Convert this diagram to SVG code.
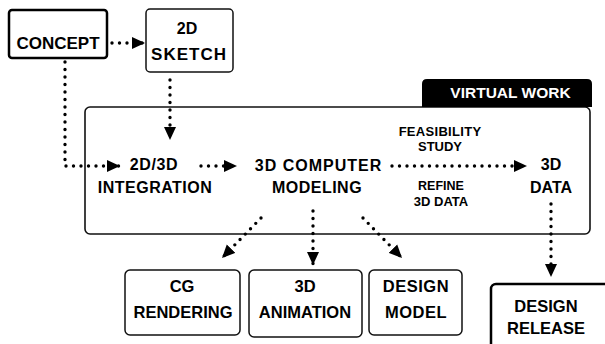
<svg xmlns="http://www.w3.org/2000/svg" width="605" height="344" viewBox="0 0 605 344">
<style>
.t{font-family:"Liberation Sans",Arial,sans-serif;font-weight:bold;fill:#000;text-anchor:middle;font-size:16px}
.box{fill:#fff;stroke:#111;stroke-width:1.5}
.thick{fill:#fff;stroke:#000;stroke-width:2.5}
.dot{fill:none;stroke:#000;stroke-width:3.4;stroke-linecap:round;stroke-dasharray:0 7.5}
</style>
<defs>
<marker id="ah" markerUnits="userSpaceOnUse" markerWidth="13" markerHeight="13" viewBox="0 0 13 13" refX="13" refY="6.5" orient="auto">
<path d="M0,0.5 L13,6.5 L0,12.5 z" fill="#000" stroke="none"/>
</marker>
</defs>
<rect width="605" height="344" fill="#fff"/>
<g id="virtual-work">
<rect x="85" y="107" width="505" height="127" rx="5" fill="none" stroke="#111" stroke-width="1.6"/>
<path d="M422,107 V84 Q422,79 427,79 H587 Q592,79 592,84 V107 Z" fill="#000"/>
<text class="t" x="510.5" y="98" style="fill:#fff;font-size:15.5px">VIRTUAL WORK</text>
</g>
<g id="concept">
<rect class="thick" x="9" y="10" width="98" height="48" rx="3"/>
<text class="t" x="58" y="49" style="font-size:17px">CONCEPT</text>
</g>
<g id="sketch">
<rect class="box" x="146" y="9" width="87" height="63" rx="4"/>
<text class="t" x="187" y="34" style="font-size:16px">2D</text>
<text class="t" x="189" y="60" style="font-size:17px;letter-spacing:1px">SKETCH</text>
</g>
<g id="integration">
<text class="t" x="154" y="170" style="letter-spacing:0.6px">2D/3D</text>
<text class="t" x="155" y="193" style="letter-spacing:0.5px">INTEGRATION</text>
</g>
<g id="modeling">
<text class="t" x="318.5" y="171" style="letter-spacing:1px">3D COMPUTER</text>
<text class="t" x="317" y="193" style="letter-spacing:0.5px">MODELING</text>
</g>
<g id="feasibility">
<text class="t" x="440" y="136" style="font-size:13px;letter-spacing:0.3px">FEASIBILITY</text>
<text class="t" x="440" y="151" style="font-size:13px">STUDY</text>
</g>
<g id="refine">
<text class="t" x="441" y="190" style="font-size:12.5px">REFINE</text>
<text class="t" x="441" y="206" style="font-size:13px">3D DATA</text>
</g>
<g id="data">
<text class="t" x="551" y="170">3D</text>
<text class="t" x="551" y="193">DATA</text>
</g>
<g id="cg-rendering">
<rect class="box" x="125" y="270" width="115" height="65" rx="5"/>
<text class="t" x="182" y="292" style="font-size:16.5px">CG</text>
<text class="t" x="183" y="318" style="font-size:16.5px">RENDERING</text>
</g>
<g id="animation">
<rect class="box" x="249" y="270" width="113" height="67" rx="5"/>
<text class="t" x="305" y="292" style="font-size:16.5px">3D</text>
<text class="t" x="305" y="318" style="font-size:16.5px">ANIMATION</text>
</g>
<g id="design-model">
<rect class="box" x="369" y="270" width="93" height="65" rx="5"/>
<text class="t" x="416" y="292" style="font-size:16.5px;letter-spacing:0.5px">DESIGN</text>
<text class="t" x="416" y="318" style="font-size:16.5px;letter-spacing:0.5px">MODEL</text>
</g>
<g id="design-release">
<rect class="thick" x="491" y="284" width="130" height="80" rx="5"/>
<text class="t" x="546" y="312" style="font-size:16.5px">DESIGN</text>
<text class="t" x="546" y="334" style="font-size:16.5px">RELEASE</text>
</g>
<g id="connectors">
<path class="dot" d="M112,43 H145" marker-end="url(#ah)"/>
<path class="dot" d="M65,62 V166 H120" marker-end="url(#ah)"/>
<path class="dot" d="M170,80 V140" marker-end="url(#ah)"/>
<path class="dot" d="M201,166 H237" marker-end="url(#ah)"/>
<path class="dot" d="M392,166 H527" marker-end="url(#ah)"/>
<path class="dot" d="M261,218 L222,258" marker-end="url(#ah)"/>
<path class="dot" d="M313,211 V265" marker-end="url(#ah)"/>
<path class="dot" d="M363,218 L402,258" marker-end="url(#ah)"/>
<path class="dot" d="M551,204 V277" marker-end="url(#ah)"/>
</g>
</svg>
